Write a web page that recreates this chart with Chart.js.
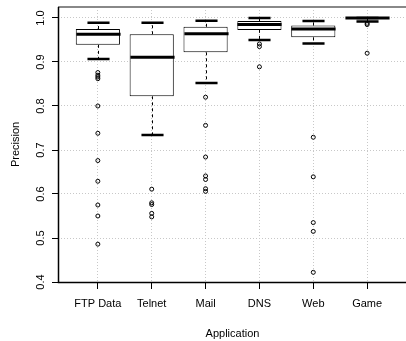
<!DOCTYPE html>
<html>
<head>
<meta charset="utf-8">
<script src="https://cdn.jsdelivr.net/npm/chart.js@4"></script>
<style>
    html, body { margin: 0; padding: 0; background: #fff; overflow: hidden; }
    canvas { display: block; }
</style>
</head>
<body>
<canvas id="precisionChart" width="412" height="341"></canvas>
<script>
// Precision per application (boxplot summary)
var categories = ["FTP Data", "Telnet", "Mail", "DNS", "Web", "Game"];
var lowerWhisker = [0.907, 0.734, 0.852, 0.950, 0.942, 0.992];
var q1 = [0.939, 0.822, 0.922, 0.973, 0.956, 1.000];
var median = [0.963, 0.911, 0.964, 0.985, 0.975, 1.000];
var q3 = [0.975, 0.963, 0.980, 0.993, 0.983, 1.000];
var upperWhisker = [0.989, 0.989, 0.994, 1.000, 0.993, 1.000];
var outliers = [
    [0.876, 0.870, 0.866, 0.862, 0.800, 0.738, 0.676, 0.629, 0.575, 0.550, 0.486],
    [0.611, 0.580, 0.576, 0.556, 0.548],
    [0.820, 0.756, 0.684, 0.641, 0.633, 0.612, 0.606],
    [0.941, 0.935, 0.889],
    [0.729, 0.639, 0.535, 0.515, 0.422],
    [0.988, 0.985, 0.920]
];
var yTicks = [0.4, 0.5, 0.6, 0.7, 0.8, 0.9, 1.0];

var FONT = "'Liberation Sans', Arial, sans-serif";

// Boxes as floating bars from q1 to q3
var boxData = [];
for (var i = 0; i < categories.length; i++) {
    boxData.push({ x: i + 1, y: [q1[i], q3[i]] });
}

// Outlier points
var outlierData = [];
for (var j = 0; j < outliers.length; j++) {
    for (var k = 0; k < outliers[j].length; k++) {
        outlierData.push({ x: j + 1, y: outliers[j][k] });
    }
}

// Whiskers, caps, medians, frame and rotated y labels
var boxplotExtras = {
    id: "boxplotExtras",
    afterDatasetsDraw: function (chart) {
        var ctx = chart.ctx;
        var xs = chart.scales.x;
        var ys = chart.scales.y;
        var bars = chart.getDatasetMeta(0).data;
        ctx.save();
        ctx.strokeStyle = "#000";
        for (var i = 0; i < categories.length; i++) {
            var xc = Math.round(xs.getPixelForValue(i + 1)) + 0.5;
            var w = bars[i].width;
            // dashed whiskers
            ctx.lineWidth = 1;
            ctx.setLineDash([3, 3]);
            ctx.beginPath();
            ctx.moveTo(xc, ys.getPixelForValue(q3[i]));
            ctx.lineTo(xc, ys.getPixelForValue(upperWhisker[i]));
            ctx.moveTo(xc, ys.getPixelForValue(q1[i]));
            ctx.lineTo(xc, ys.getPixelForValue(lowerWhisker[i]));
            ctx.stroke();
            ctx.setLineDash([]);
            // caps
            ctx.lineWidth = 2.5;
            ctx.beginPath();
            ctx.moveTo(xc - w / 4, ys.getPixelForValue(upperWhisker[i]));
            ctx.lineTo(xc + w / 4, ys.getPixelForValue(upperWhisker[i]));
            ctx.moveTo(xc - w / 4, ys.getPixelForValue(lowerWhisker[i]));
            ctx.lineTo(xc + w / 4, ys.getPixelForValue(lowerWhisker[i]));
            ctx.stroke();
            // median
            ctx.lineWidth = 3;
            ctx.beginPath();
            ctx.moveTo(xc - w / 2, ys.getPixelForValue(median[i]));
            ctx.lineTo(xc + w / 2, ys.getPixelForValue(median[i]));
            ctx.stroke();
        }
        ctx.restore();
    },
    afterDraw: function (chart) {
        var ctx = chart.ctx;
        var a = chart.chartArea;
        var ys = chart.scales.y;
        ctx.save();
        // plot frame
        ctx.strokeStyle = "#888";
        ctx.lineWidth = 2;
        ctx.beginPath();
        ctx.moveTo(a.left, a.top);
        ctx.lineTo(a.right, a.top);
        ctx.stroke();
        ctx.strokeStyle = "#000";
        ctx.lineWidth = 1.5;
        ctx.beginPath();
        ctx.moveTo(a.left + 0.5, a.top);
        ctx.lineTo(a.left + 0.5, a.bottom + 0.5);
        ctx.lineTo(a.right, a.bottom + 0.5);
        ctx.stroke();
        // y tick labels, parallel to the axis
        ctx.fillStyle = "#000";
        ctx.font = "11px " + FONT;
        ctx.textAlign = "center";
        ctx.textBaseline = "middle";
        ys.ticks.forEach(function (t) {
            ctx.save();
            ctx.translate(41, ys.getPixelForValue(t.value));
            ctx.rotate(-Math.PI / 2);
            ctx.fillText(t.value.toFixed(1), 0, 0);
            ctx.restore();
        });
        ctx.restore();
    }
};

function createBoxPlot(chartId) {
    var ctx = document.getElementById(chartId).getContext("2d");
    new Chart(ctx, {
        type: "bar",
        data: {
            datasets: [{
                label: "box",
                data: boxData,
                backgroundColor: "#fff",
                borderColor: "#000",
                borderWidth: 1,
                borderSkipped: false,
                barPercentage: 0.82,
                categoryPercentage: 1
            }, {
                type: "scatter",
                label: "outliers",
                data: outlierData,
                pointStyle: "circle",
                pointRadius: 2,
                pointBorderWidth: 1,
                pointBackgroundColor: "rgba(0,0,0,0)",
                pointBorderColor: "#000"
            }]
        },
        options: {
            responsive: false,
            animation: false,
            layout: { padding: { top: 7, left: 0, right: 0, bottom: 0 } },
            plugins: {
                legend: { display: false },
                tooltip: { enabled: false }
            },
            scales: {
                x: {
                    type: "linear",
                    min: 0.26,
                    max: 6.74,
                    offset: false,
                    z: 1,
                    afterBuildTicks: function (s) {
                        s.ticks = categories.map(function (c, i) { return { value: i + 1 }; });
                    },
                    afterFit: function (s) { s.height = 59; },
                    grid: {
                        offset: false,
                        color: "#c8c8c8",
                        lineWidth: 1,
                        tickLength: 7,
                        tickColor: "#000",
                        tickBorderDash: []
                    },
                    border: { display: false, dash: [1, 2] },
                    ticks: {
                        autoSkip: false,
                        maxRotation: 0,
                        padding: 8,
                        color: "#000",
                        font: { family: FONT, size: 11 },
                        callback: function (v) { return categories[v - 1]; }
                    },
                    title: {
                        display: true,
                        text: "Application",
                        color: "#000",
                        font: { family: FONT, size: 11 },
                        padding: { top: 0, bottom: 0 }
                    }
                },
                y: {
                    type: "linear",
                    min: 0.4,
                    max: 1.025,
                    z: 1,
                    afterBuildTicks: function (s) {
                        s.ticks = yTicks.map(function (v) { return { value: v }; });
                    },
                    afterFit: function (s) { s.width = 58; },
                    grid: {
                        color: "#c8c8c8",
                        lineWidth: 1,
                        tickLength: 6,
                        tickColor: "#000",
                        tickBorderDash: []
                    },
                    border: { display: false, dash: [1, 2] },
                    ticks: { display: false },
                    title: {
                        display: true,
                        text: "Precision",
                        color: "#000",
                        font: { family: FONT, size: 11 },
                        padding: { top: 9, bottom: 0 }
                    }
                }
            }
        },
        plugins: [boxplotExtras]
    });
}

createBoxPlot("precisionChart");
</script>
</body>
</html>
